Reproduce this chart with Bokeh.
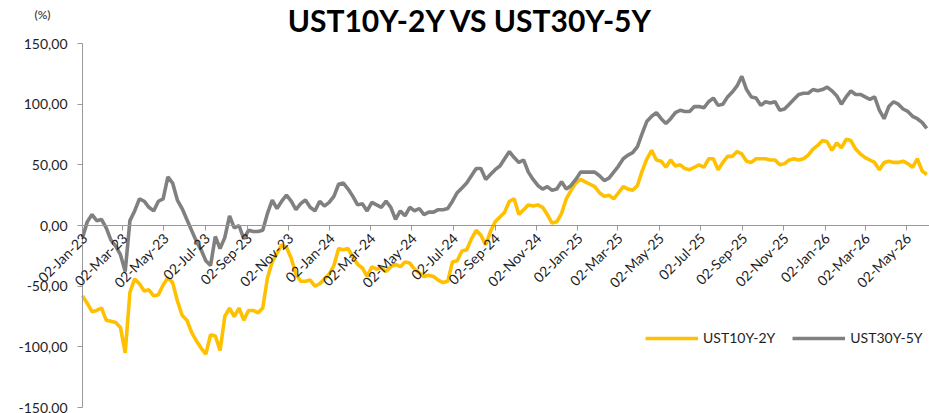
import pandas as pd
from math import pi
from bokeh.plotting import figure
from bokeh.models import (ColumnDataSource, Range1d, FixedTicker, CustomJSTickFormatter,
                          Label, Legend, LegendItem)
from bokeh.embed import file_html
from bokeh.resources import INLINE

# ---------------- data ----------------
title_text = "UST10Y-2Y VS UST30Y-5Y"
unit_text = "(%)"
series_names = ["UST10Y-2Y", "UST30Y-5Y"]
series_colors = ["#FFC000", "#808080"]
start_date = "2023-01-02"      # first observation (weekly observations)
end_date = "2026-06-05"        # right end of the axis

ust10y_2y = [
    -58, -64, -71, -70, -68, -78, -79, -80, -84, -105,
    -55, -44, -48, -54, -53, -58, -57, -49, -43, -47,
    -62, -74, -78, -88, -95, -101, -106, -90, -91, -103,
    -75, -68, -75, -68, -78, -70, -70, -72, -68, -43,
    -30, -23, -16, -18, -27, -40, -46, -46, -45, -50,
    -48, -44, -40, -33, -19, -20, -19, -26, -32, -35,
    -42, -34, -36, -35, -38, -34, -32, -34, -30, -31,
    -36, -39, -42, -41, -42, -45, -47, -46, -30, -29,
    -21, -20, -11, -4, -8, -16, -5, 3, 7, 11,
    20, 22, 9, 13, 17, 16, 17, 15, 9, 2,
    3, 10, 22, 29, 35, 38, 36, 34, 32, 27,
    24, 25, 22, 27, 32, 30, 29, 33, 45, 55,
    62, 54, 53, 48, 54, 49, 50, 47, 46, 48,
    50, 48, 55, 55, 46, 52, 57, 57, 61, 59,
    53, 52, 55, 55, 55, 54, 54, 50, 51, 54,
    55, 54, 55, 58, 63, 66, 70, 69, 62, 68,
    64, 71, 70, 63, 59, 56, 54, 52, 46, 52,
    53, 52, 52, 53, 51, 48, 55, 45, 42,
]

ust30y_5y = [
    -10, 3, 9, 4, 5, -2, -12, -17, -24, -38,
    4, 12, 22, 20, 15, 12, 20, 22, 40, 35,
    21, 14, 5, -4, -13, -20, -29, -33, -9, -19,
    -10, 8, -2, 0, -11, -4, -5, -5, -4, 10,
    21, 14, 20, 25, 20, 13, 18, 21, 15, 12,
    20, 16, 19, 24, 34, 35, 30, 24, 17, 18,
    12, 19, 17, 15, 20, 15, 5, 12, 8, 15,
    12, 14, 9, 11, 11, 13, 13, 14, 20, 27,
    31, 35, 41, 47, 47, 38, 42, 46, 49, 55,
    61, 56, 52, 54, 44, 38, 33, 30, 32, 29,
    30, 36, 30, 33, 38, 44, 44, 44, 44, 41,
    37, 39, 44, 49, 55, 58, 60, 65, 76, 86,
    90, 93, 88, 84, 88, 93, 95, 94, 94, 98,
    98, 97, 102, 105, 99, 100, 106, 110, 115, 123,
    112, 106, 105, 99, 102, 101, 102, 95, 96, 100,
    104, 108, 109, 109, 112, 111, 112, 114, 111, 107,
    100, 106, 111, 108, 108, 106, 104, 106, 95, 88,
    98, 102, 100, 96, 94, 90, 88, 85, 80,
]

xtick_dates = [
    "2023-01-02", "2023-03-02", "2023-05-02", "2023-07-02", "2023-09-02", "2023-11-02",
    "2024-01-02", "2024-03-02", "2024-05-02", "2024-07-02", "2024-09-02", "2024-11-02",
    "2025-01-02", "2025-03-02", "2025-05-02", "2025-07-02", "2025-09-02", "2025-11-02",
    "2026-01-02", "2026-03-02", "2026-05-02",
]
ytick_values = [-150, -100, -50, 0, 50, 100, 150]
y_min, y_max = -150, 150

# ---------------- layout (pixels) ----------------
W, H = 929, 413
AX_LEFT, AX_RIGHT = 82, 929     # where the axis span sits on the canvas
AX_TOP, AX_BOTTOM = 43, 407

FONT = "Lato"
TEXT_COLOR = "#1e1e1e"
AXIS_COLOR = "#999999"

t0, t1 = pd.Timestamp(start_date), pd.Timestamp(end_date)
px_t = (t1 - t0) / (AX_RIGHT - AX_LEFT)
px_y = (y_max - y_min) / (AX_BOTTOM - AX_TOP)
x_range = Range1d(t0 - px_t * AX_LEFT, t1 + px_t * (W - AX_RIGHT))
y_range = Range1d(y_min - px_y * (H - AX_BOTTOM), y_max + px_y * AX_TOP)

def ms(ts):
    return pd.Timestamp(ts).value // 10**6

dates = pd.date_range(start_date, periods=len(ust10y_2y), freq="7D")
src = ColumnDataSource(dict(date=dates, s1=ust10y_2y, s2=ust30y_5y))

p = figure(width=W, height=H, x_axis_type="datetime",
           x_axis_location="above", y_axis_location="right",
           x_range=x_range, y_range=y_range,
           output_backend="svg", toolbar_location=None,
           min_border_left=0, min_border_right=0, min_border_top=0, min_border_bottom=0)
p.outline_line_color = None
p.xgrid.visible = False
p.ygrid.visible = False
p.background_fill_color = "white"
p.border_fill_color = "white"

# y axis: line at the first date, ticks pointing left
yax = p.yaxis[0]
yax.fixed_location = ms(start_date)
yax.bounds = (y_min, y_max)
yax.ticker = FixedTicker(ticks=ytick_values)
yax.formatter = CustomJSTickFormatter(code="return '';")
yax.major_label_text_color = None
yax.major_label_standoff = 0
yax.axis_line_color = AXIS_COLOR
yax.major_tick_line_color = AXIS_COLOR
yax.major_tick_in = 5
yax.major_tick_out = 0
yax.minor_tick_line_color = None

# x axis: line at zero, ticks pointing down
xax = p.xaxis[0]
xax.fixed_location = 0
xax.bounds = (ms(start_date), ms(end_date) + 86400000 * 10)
xax.ticker = FixedTicker(ticks=[ms(d) for d in xtick_dates])
xax.formatter = CustomJSTickFormatter(code="return '';")
xax.major_label_text_color = None
xax.major_label_standoff = 0
xax.axis_line_color = AXIS_COLOR
xax.major_tick_line_color = AXIS_COLOR
xax.major_tick_in = 5
xax.major_tick_out = 0
xax.minor_tick_line_color = None

# lines
r1 = p.line("date", "s1", source=src, line_color=series_colors[0], line_width=3.6)
r2 = p.line("date", "s2", source=src, line_color=series_colors[1], line_width=3.6)

# y tick labels
for v in ytick_values:
    p.add_layout(Label(x=ms(start_date), y=v, text=f"{v:.2f}".replace(".", ","),
                       text_align="right", text_baseline="middle", x_offset=-15,
                       text_font=FONT, text_font_size="14px", text_color=TEXT_COLOR))

# rotated date labels hanging under the zero line
for d in xtick_dates:
    p.add_layout(Label(x=ms(d), y=0, text=pd.Timestamp(d).strftime("%d-%b-%y"),
                       angle=pi / 4, text_align="right", text_baseline="middle",
                       x_offset=2, y_offset=-10,
                       text_font=FONT, text_font_size="14px", text_color=TEXT_COLOR))

# legend
legend = Legend(items=[LegendItem(label=series_names[0], renderers=[r1]),
                       LegendItem(label=series_names[1], renderers=[r2])],
                orientation="horizontal", location=(645, 67),
                glyph_width=53, glyph_height=16, label_standoff=5, spacing=17,
                padding=0, margin=0, border_line_color=None, background_fill_alpha=0,
                label_text_font=FONT, label_text_font_size="14px",
                label_text_color=TEXT_COLOR)
p.add_layout(legend)

# title and unit
title_x = t0 + px_t * (470 - AX_LEFT)
p.add_layout(Label(x=ms(title_x), y=y_range.end, text=title_text,
                   text_align="center", text_baseline="top", y_offset=-1,
                   text_font=FONT, text_font_style="bold", text_font_size="30px",
                   text_color="#000000"))
unit_x = t0 + px_t * (42 - AX_LEFT)
p.add_layout(Label(x=ms(unit_x), y=y_range.end, text=unit_text,
                   text_align="center", text_baseline="middle", y_offset=-14,
                   text_font=FONT, text_font_size="12px", text_color=TEXT_COLOR))

open("out.html", "w").write(file_html(p, INLINE))
